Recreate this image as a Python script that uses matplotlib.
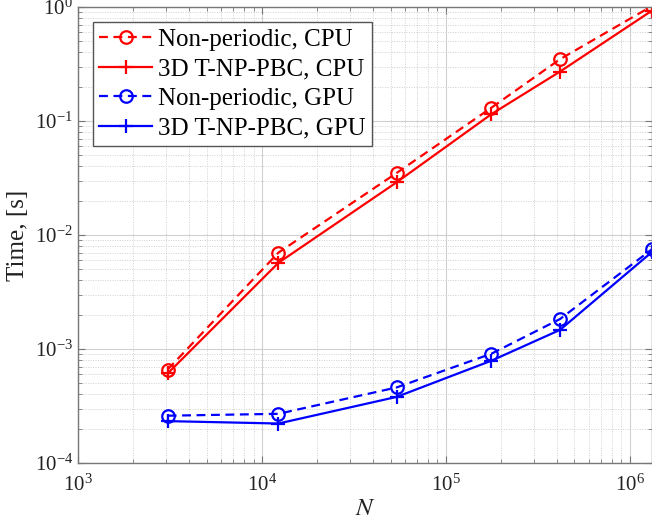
import numpy as np
import matplotlib.pyplot as plt

# number of particles
N = [3072, 12288, 54000, 177000, 417000, 1.32e6]

# timings, seconds
cpu_nonperiodic = [6.6e-4, 7.0e-3, 3.5e-2, 0.131, 0.348, 1.02]
cpu_tnppbc = [6.1e-4, 5.7e-3, 2.9e-2, 0.115, 0.271, 0.93]
gpu_nonperiodic = [2.6e-4, 2.7e-4, 4.6e-4, 9.1e-4, 1.83e-3, 7.5e-3]
gpu_tnppbc = [2.33e-4, 2.22e-4, 3.8e-4, 7.9e-4, 1.47e-3, 7.1e-3]

labels = ["Non-periodic, CPU", "3D T-NP-PBC, CPU",
          "Non-periodic, GPU", "3D T-NP-PBC, GPU"]

plt.rcParams['font.family'] = ['Liberation Serif', 'DejaVu Serif']
plt.rcParams['mathtext.fontset'] = 'stix'

W, H = 652, 529
fig = plt.figure(figsize=(W / 100, H / 100), dpi=100)
ax = fig.add_axes([78 / W, 1 - 463 / H, (W - 78) / W, (463 - 7) / H])

lw = 1.6
ms = 9
ax.plot(N, cpu_nonperiodic, color='#ff0000', ls='--', dashes=(4, 2.5), lw=lw,
        marker='o', mfc='none', ms=ms, mew=lw, label=labels[0])
ax.plot(N, cpu_tnppbc, color='#ff0000', ls='-', lw=lw,
        marker='+', ms=ms + 1, mew=lw, label=labels[1])
ax.plot(N, gpu_nonperiodic, color='#0000ff', ls='--', dashes=(4, 2.5), lw=lw,
        marker='o', mfc='none', ms=ms, mew=lw, label=labels[2])
ax.plot(N, gpu_tnppbc, color='#0000ff', ls='-', lw=lw,
        marker='+', ms=ms + 1, mew=lw, label=labels[3])

ax.set_xscale('log')
ax.set_yscale('log')
ax.set_xlim(1e3, N[-1])
ax.set_ylim(1e-4, 1e0)

ax.grid(True, which='major', color='#d0d0d0', lw=0.8, ls='-')
ax.grid(True, which='minor', color='#d0d0d0', lw=0.7, ls=(0, (1, 1.5)))
ax.set_axisbelow(True)

for s in ax.spines.values():
    s.set_color('#777777')
    s.set_linewidth(1.0)
ax.tick_params(which='both', direction='in', top=True, right=True,
               colors='#777777', labelcolor='#222222', labelsize=15)
ax.tick_params(which='major', length=5, width=0.8)
ax.tick_params(which='minor', length=3, width=0.6)
ax.tick_params(axis='x', which='major', pad=8)
for t in ax.get_yticklabels():
    t.set_verticalalignment('center_baseline')
ax.set_xlabel('$N$', fontsize=18, color='#222222', labelpad=2)
ax.set_ylabel('Time, [s]', fontsize=18, color='#222222', labelpad=4)

leg = ax.legend(loc='upper left', fontsize=18, handlelength=2.1,
                labelspacing=0.28, borderpad=0.25, handletextpad=0.25,
                borderaxespad=0.6, fancybox=False, framealpha=1)
leg.get_frame().set_edgecolor('#555555')
leg.get_frame().set_linewidth(1.0)

plt.savefig('out.png', dpi=100)
